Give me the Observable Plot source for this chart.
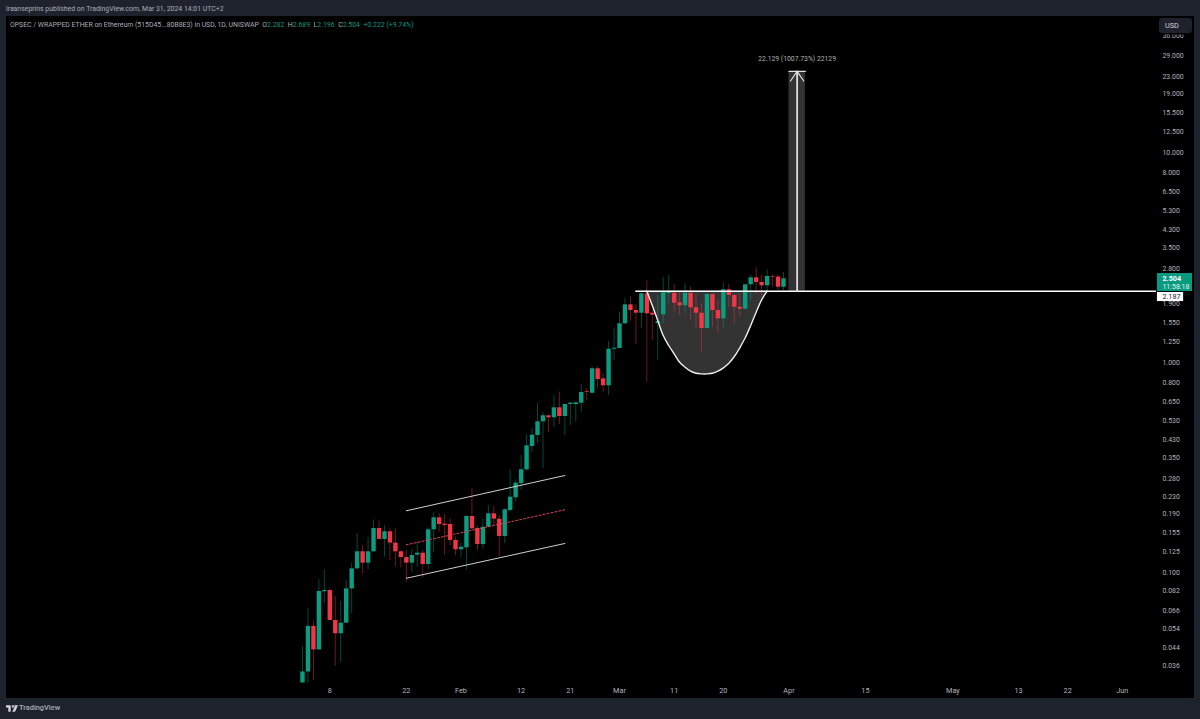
<!DOCTYPE html>
<html>
<head>
<meta charset="utf-8">
<script src="https://cdn.jsdelivr.net/npm/d3@7"></script>
<script src="https://cdn.jsdelivr.net/npm/@observablehq/plot@0.6"></script>
<style>
html,body{margin:0;padding:0;background:#1e222d;width:1200px;height:719px;overflow:hidden;font-family:Roboto,"Liberation Sans",sans-serif;}
#page{position:relative;width:1200px;height:719px;}
#pub{position:absolute;left:6px;top:4px;font-size:6.9px;line-height:10px;color:#a9adb8;white-space:nowrap;}
#chart{position:absolute;left:6px;top:16px;width:1188px;height:682px;background:#000;}
#chart svg{display:block;background:#000;}
#legend{position:absolute;left:10px;top:20px;font-size:6.9px;line-height:10px;color:#a9adb8;white-space:nowrap;}
#legend b{font-weight:400;color:#089981;}
#legend span{margin-left:1.8px;}
#usd{position:absolute;left:1159px;top:18px;width:33px;height:15px;background:#1e222d;border-radius:3px;box-shadow:0 0 0 1.5px #000;color:#d1d4dc;font-size:7.2px;line-height:15px;padding-left:6px;box-sizing:border-box;}
#brand{position:absolute;left:19px;top:702px;font-size:7.4px;line-height:12px;color:#a9adb8;font-weight:500;}
#logo{position:absolute;left:6px;top:705px;}
</style>
</head>
<body>
<div id="page">
<div id="pub">iraanseprins published on TradingView.com, Mar 31, 2024 14:01 UTC+2</div>
<div id="chart"></div>
<div id="legend">OPSEC / WRAPPED ETHER on Ethereum (515D45...80B8E3) in USD, 1D, UNISWAP <span>O<b>2.282</b></span> <span>H<b>2.689</b></span> <span>L<b>2.196</b></span> <span>C<b>2.504</b></span> <span><b>+0.222 (+9.74%)</b></span></div>
<div id="usd">USD</div>
<svg id="logo" width="12" height="7" viewBox="0 0 36 20"><path fill="#d1d4dc" d="M0 0h14v20H7V7H0zM16 0h20l-9 20h-8l8-18zM17 4a3.5 3.5 0 1 1 0 .1z"/></svg>
<div id="brand">TradingView</div>
</div>
<script>
const firstDay = "2024-01-03";
const opens = [.0298,.0336,.0554,.0428,.0810,.0821,.0591,.0511,.0574,.0836,.1041,.1255,.1108,.1255,.1620,.1437,.1563,.1380,.1255,.1179,.1108,.1209,.1236,.1092,.1597,.1822,.1699,.1693,.1421,
  .1283,.1312,.1848,.1620,.1360,.1643,.1904,.1794,.1485,.1974,.2270,.2647,.3084,.3982,.4492,.5220,.5575,.5454,.6086,.5532,.6310,.6310,.6400,.7250,.7141,.9333,.8360,.7746,1.157,
  1.166,1.529,1.882,1.769,1.717,2.124,1.717,1.534,1.687,2.131,2.138,1.923,1.862,2.138,1.821,1.717,1.452,2.108,1.769,1.614,2.219,2.084,1.833,1.794,2.344,2.531,2.404,2.318,2.567,2.550,2.282];
const highs = [.0444,.0671,.0587,.0923,.1030,.0836,.0769,.0728,.0916,.1108,.1529,.1345,.1464,.1783,.1756,.1675,.1615,.1615,.1273,.1273,.1283,.1395,.1273,.1633,.1937,.1904,.1889,.1802,.1473,
  .1380,.1869,.2504,.1656,.1802,.2085,.2063,.1869,.2011,.3060,.2764,.3608,.4541,.4850,.6380,.5780,.5590,.6964,.7220,.6310,.6470,.6450,.7857,.7520,.9570,.9570,.8863,1.259,1.447,
  1.736,2.010,2.062,1.888,2.138,2.457,1.769,2.084,2.548,2.596,2.352,2.162,2.385,2.283,2.124,1.903,2.124,2.124,1.973,2.385,2.352,2.124,2.124,2.370,2.596,2.824,2.596,2.763,2.596,2.596,2.689];
const lows = [.0297,.0297,.0306,.0425,.0710,.0587,.0358,.0372,.0570,.0636,.1030,.0986,.1030,.1251,.1432,.1183,.1141,.1060,.1053,.0899,.1003,.1060,.0943,.1030,.1251,.1556,.1205,.1345,.1205,
  .1175,.1030,.1585,.1273,.1283,.1633,.1675,.1192,.1371,.1937,.2162,.2458,.3027,.3728,.4115,.3128,.4642,.4904,.5068,.4492,.5012,.5197,.5799,.6593,.7090,.7520,.7220,.6963,1.022,
  1.163,1.515,1.573,1.218,1.447,.8057,1.273,1.022,1.529,1.903,1.736,1.674,1.706,1.585,1.447,1.119,1.447,1.472,1.370,1.447,1.833,1.517,1.643,1.782,1.973,2.124,2.043,2.124,2.283,2.202,2.196];
const closes = [.0336,.0554,.0428,.0812,.0821,.0591,.0511,.0574,.0836,.1041,.1255,.1108,.1255,.1620,.1437,.1563,.1380,.1255,.1179,.1108,.1205,.1236,.1092,.1597,.1822,.1693,.1675,.1421,.1283,
  .1320,.1848,.1615,.1360,.1643,.1904,.1794,.1485,.1989,.2284,.2663,.3084,.4012,.4507,.5220,.5575,.5454,.6086,.5532,.6310,.6400,.6430,.7197,.7197,.9333,.8300,.7746,1.157,1.170,
  1.529,1.882,1.769,1.717,2.124,1.706,1.680,1.567,2.147,2.163,1.915,1.862,2.138,1.821,1.717,1.452,2.108,1.769,1.614,2.219,2.084,1.833,1.794,2.344,2.531,2.404,2.318,2.567,2.550,2.282,2.504];

const cupDays = d3.range(6, 29);
const cupPrices = [2.187,1.868,1.585,1.344,1.205,1.100,1.003,.950,.909,.889,.883,.883,.889,.909,.943,.992,1.068,1.175,1.311,1.500,1.736,1.988,2.187];

const channelDates = ["2024-01-22","2024-02-20"];
const channelUpper = [.1968,.2897];
const channelMiddle = [.1355,.1989];
const channelLower = [.0939,.1375];

const resistance = 2.187;
const lastPrice = 2.504;
const targetPrice = 24.316;
const yTicks = [36,29,23,19,15.5,12.5,10,8,6.5,5.3,4.3,3.5,2.8,1.9,1.55,1.25,1,.8,.65,.53,.43,.35,.28,.23,.19,.155,.125,.1,.082,.066,.054,.044,.036];
const xTickDates = ["2024-01-08","2024-01-22","2024-02-01","2024-02-12","2024-02-21","2024-03-01","2024-03-11","2024-03-20","2024-04-01","2024-04-15","2024-05-01","2024-05-13","2024-05-22","2024-06-01"];
const xTickLabels = ["8","22","Feb","12","21","Mar","11","20","Apr","15","May","13","22","Jun"];

const D = s => new Date(s);
const start = D(firstDay + "T00:00Z");
const candles = opens.map((o, i) => ({date: d3.utcDay.offset(start, i), o, h: highs[i], l: lows[i], c: closes[i]}));
const up = candles.filter(d => d.c >= d.o);
const down = candles.filter(d => d.c < d.o);
const cup = cupDays.map((d, i) => ({date: new Date(Date.UTC(2024, 2, d)), p: cupPrices[i]}));
const chan = (vals) => channelDates.map((d, i) => ({date: D(d + "T00:00Z"), p: vals[i]}));
const tickMap = new Map(xTickDates.map((d, i) => [+D(d + "T00:00Z"), xTickLabels[i]]));

const GREEN = "#0b9d81", RED = "#f23645", AXIS = "#b2b5be", FONT = "Roboto, sans-serif";
const arrowX = new Date(Date.UTC(2024, 3, 2, 12));
const arrowLeft = new Date(Date.UTC(2024, 3, 1, 7));
const arrowRight = new Date(Date.UTC(2024, 3, 3, 17));
const boxL = new Date(Date.UTC(2024, 5, 7, 10));
const boxR = new Date(Date.UTC(2024, 5, 13, 20));
const boxW = new Date(Date.UTC(2024, 5, 12, 5));
const endX = new Date(Date.UTC(2024, 5, 7, 1, 30));

const plot = Plot.plot({
  width: 1188, height: 682,
  marginLeft: 0, marginRight: 39, marginTop: 0, marginBottom: 16,
  style: {background: "#000", fontFamily: FONT},
  x: {type: "utc", domain: [new Date(Date.UTC(2023, 10, 9, 20, 24)), endX]},
  y: {type: "log", domain: [0.02994, 44.42], axis: null},
  marks: [
    Plot.axisX({ticks: xTickDates.map(d => D(d + "T00:00Z")), tickFormat: d => tickMap.get(+d), tickSize: 0, tickPadding: 5, fontSize: 7.3, stroke: "none", fill: AXIS, label: null}),
    Plot.text(yTicks, {x: endX, y: d => d, text: d3.format(".3f"), dx: 7, textAnchor: "start", fontSize: 6.9, fill: AXIS, fontFamily: FONT}),
    // measure box and cup fill
    Plot.rect([{}], {x1: new Date(Date.UTC(2024, 3, 1)), x2: new Date(Date.UTC(2024, 3, 4)), y1: resistance, y2: targetPrice, fill: "#fff", fillOpacity: 0.2}),
    Plot.areaY(cup, {x: "date", y1: "p", y2: () => resistance, fill: "#fff", fillOpacity: 0.2, curve: "catmull-rom"}),
    // wicks
    Plot.ruleX(up, {x: "date", y1: "l", y2: "h", stroke: GREEN, strokeOpacity: 0.45, strokeWidth: 1}),
    Plot.ruleX(down, {x: "date", y1: "l", y2: "h", stroke: RED, strokeOpacity: 0.45, strokeWidth: 1}),
    // bodies
    Plot.ruleX(up, {x: "date", y1: "o", y2: "c", stroke: GREEN, strokeWidth: 4.4}),
    Plot.ruleX(down, {x: "date", y1: "o", y2: "c", stroke: RED, strokeWidth: 4.4}),
    // channel
    Plot.line(chan(channelUpper), {x: "date", y: "p", stroke: "#cfcfcf", strokeWidth: 1}),
    Plot.line(chan(channelLower), {x: "date", y: "p", stroke: "#cfcfcf", strokeWidth: 1}),
    Plot.line(chan(channelMiddle), {x: "date", y: "p", stroke: "#e0405a", strokeWidth: 1, strokeDasharray: "2 2"}),
    // cup outline
    Plot.line(cup, {x: "date", y: "p", stroke: "#f0f0f0", strokeWidth: 1.4, curve: "catmull-rom"}),
    // resistance line
    Plot.line([{date: new Date(Date.UTC(2024, 2, 4)), p: resistance}, {date: endX, p: resistance}], {x: "date", y: "p", stroke: "#fff", strokeWidth: 1.5}),
    // measure arrow
    Plot.line([{date: arrowX, p: resistance}, {date: arrowX, p: targetPrice}], {x: "date", y: "p", stroke: "#e0e0e0", strokeWidth: 1.8}),
    Plot.line([{date: arrowLeft, p: 21.9}, {date: arrowX, p: targetPrice}, {date: arrowRight, p: 21.9}], {x: "date", y: "p", stroke: "#e0e0e0", strokeWidth: 1.2}),
    Plot.line([{date: new Date(Date.UTC(2024, 3, 1)), p: targetPrice}, {date: new Date(Date.UTC(2024, 3, 4)), p: targetPrice}], {x: "date", y: "p", stroke: "#e0e0e0", strokeWidth: 1.2}),
    Plot.text(["22.129 (1007.73%) 22129"], {x: arrowX, y: 28, text: d => d, fill: "#b0b0b0", fontSize: 6.8, fontFamily: FONT}),
    // price labels
    Plot.rect([{}], {x1: boxL, x2: boxR, y1: 2.178, y2: 2.653, fill: "#089981"}),
    Plot.rect([{}], {x1: boxL, x2: boxW, y1: 1.951, y2: 2.155, fill: "#ffffff"}),
    Plot.text(["2.504"], {x: boxL, y: lastPrice, dx: 5, text: d => d, textAnchor: "start", fill: "#fff", fontSize: 7.2, fontWeight: 700, fontFamily: FONT}),
    Plot.text(["11:58:18"], {x: boxL, y: 2.288, dx: 5, text: d => d, textAnchor: "start", fill: "#e8f5f2", fontSize: 7, fontFamily: FONT}),
    Plot.text(["2.187"], {x: boxL, y: 2.062, dx: 5, text: d => d, textAnchor: "start", fill: "#131722", fontSize: 7.2, fontFamily: FONT})
  ]
});
document.getElementById("chart").appendChild(plot);
</script>
</body>
</html>
